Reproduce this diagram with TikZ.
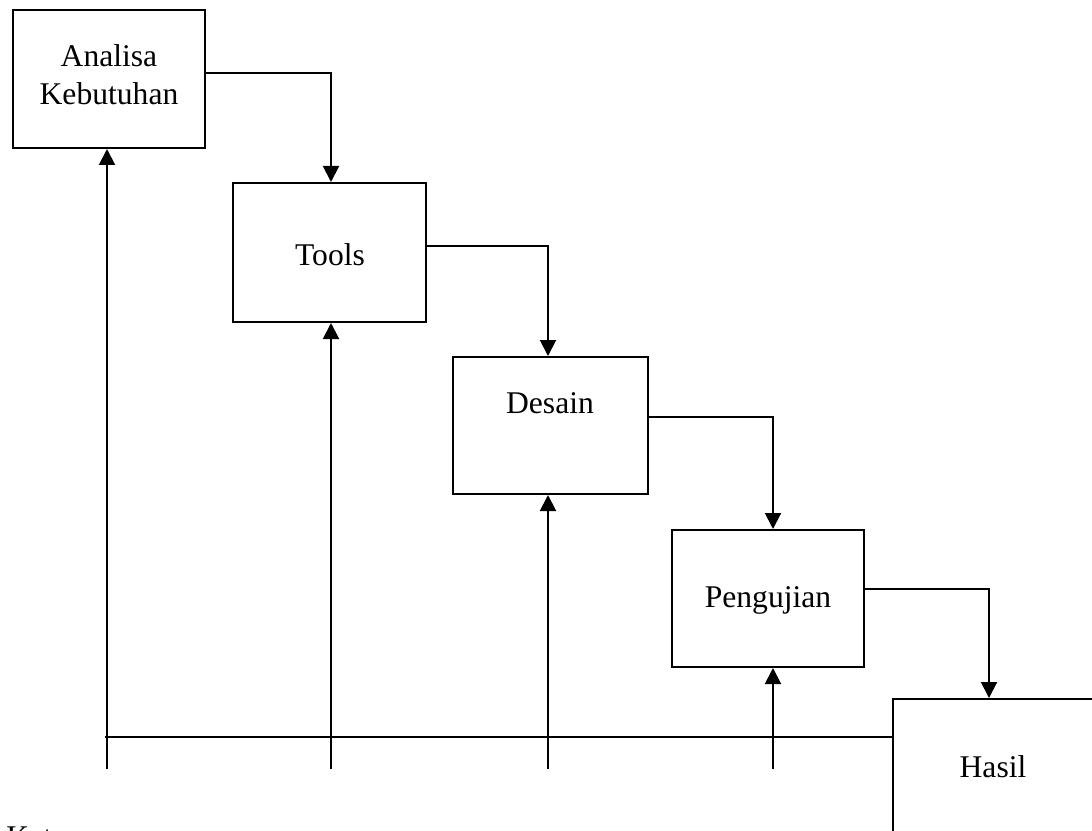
\documentclass[tikz,border=0pt]{standalone}
\usepackage{fontspec}
\setmainfont{Liberation Serif}
\usetikzlibrary{arrows.meta}
\begin{document}
\begin{tikzpicture}[x=0.75pt,y=-0.75pt,
  box/.style={draw,line width=1.5pt,rectangle,inner sep=0pt},
  lbl/.style={anchor=base,inner sep=0pt,font=\fontsize{23.7pt}{28.5pt}\selectfont},
  line/.style={line width=1.5pt},
  arr/.style={line width=1.5pt,-{Triangle[length=12pt,width=12pt]}}]
\useasboundingbox (0,0) rectangle (1092,831);
\clip (0,0) rectangle (1092,831);
% boxes
\node[box,minimum width=192*0.75pt,minimum height=138*0.75pt] (A) at (109,79) {};
\node[box,minimum width=193*0.75pt,minimum height=139*0.75pt] (T) at (329.5,252.5) {};
\node[box,minimum width=195*0.75pt,minimum height=137*0.75pt] (D) at (550.5,425.5) {};
\node[box,minimum width=192*0.75pt,minimum height=137*0.75pt] (P) at (768,598.5) {};
\node[box,minimum width=220*0.75pt,minimum height=180*0.75pt] (H) at (1003,789) {};
% labels
\node[lbl] (a1) at (109,67) {Analisa};
\node[lbl] (a2) at (109,105) {Kebutuhan};
\node[lbl] (t1) at (330,265) {Tools};
\node[lbl] (d1) at (550,413) {Desain};
\node[lbl] (p1) at (768,607) {Pengujian};
\node[lbl] (h1) at (993,777) {Hasil};
\node[lbl,anchor=base west] (k1) at (6,847) {Ket};
% forward arrows
\draw[arr] (A.east |- 0,73) -| (331,0 |- T.north);
\draw[arr] (T.east |- 0,246) -| (548,0 |- D.north);
\draw[arr] (D.east |- 0,417) -| (773,0 |- P.north);
\draw[arr] (P.east |- 0,589) -| (989,0 |- H.north);
% feedback
\coordinate (f1) at (107,769);
\coordinate (f2) at (331,769);
\coordinate (f3) at (548,769);
\coordinate (f4) at (773,769);
\coordinate (h0) at (105,737);
\draw[line] (h0) -- (H.west |- h0);
\draw[arr] (f1) -- (f1 |- A.south);
\draw[arr] (f2) -- (f2 |- T.south);
\draw[arr] (f3) -- (f3 |- D.south);
\draw[arr] (f4) -- (f4 |- P.south);
\end{tikzpicture}
\end{document}
